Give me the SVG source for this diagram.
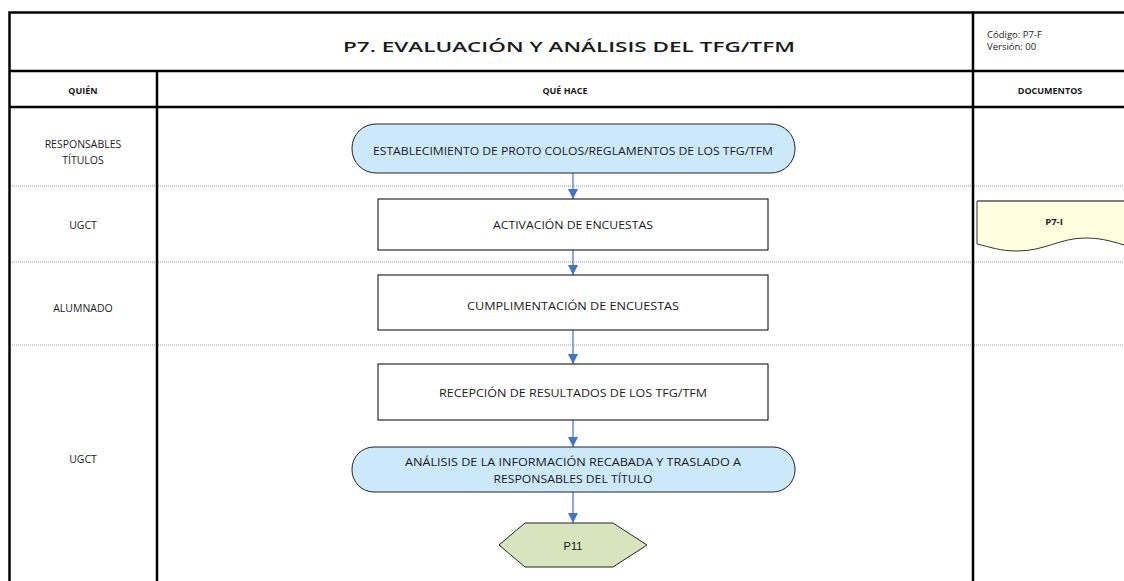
<svg xmlns="http://www.w3.org/2000/svg" width="1124" height="581" viewBox="0 0 1124 581">
<style>
.t{font-family:"Open Sans","Liberation Sans",sans-serif;fill:#1a1a1a}
.lbl{font-size:10.5px;text-anchor:middle}
.hd{font-size:9px;font-weight:bold;text-anchor:middle}
.grid{stroke:#000;stroke-width:2.5;fill:none}
.lane{stroke:#9a9a9a;stroke-width:1;stroke-dasharray:1 1}
.box{fill:#fff;stroke:#000;stroke-width:1}
.term{fill:#cce8fb;stroke:#222;stroke-width:1}
.conn{stroke:#4472c4;stroke-width:1.2;fill:none}
</style>
<defs>
<marker id="ah" viewBox="0 0 10 10" refX="10" refY="5" markerWidth="10" markerHeight="10" markerUnits="userSpaceOnUse" orient="auto">
<path d="M0,0 L10,5 L0,10 z" fill="#4472c4"/>
</marker>
</defs>
<rect width="1124" height="581" fill="#fff"/>
<g id="table">
<line class="lane" x1="10" y1="186" x2="1124" y2="186"/>
<line class="lane" x1="10" y1="262" x2="1124" y2="262"/>
<line class="lane" x1="10" y1="345" x2="1124" y2="345"/>
<path class="grid" d="M9.5,581 V12.5 H1124" stroke-width="3"/>
<line class="grid" x1="9" y1="71" x2="1124" y2="71"/>
<line class="grid" x1="9" y1="107" x2="1124" y2="107"/>
<line class="grid" x1="157" y1="71" x2="157" y2="581"/>
<line class="grid" x1="973" y1="12" x2="973" y2="581"/>
<text class="t" x="569" y="52" font-size="15" font-weight="600" text-anchor="middle" textLength="452" lengthAdjust="spacingAndGlyphs">P7. EVALUACIÓN Y ANÁLISIS DEL TFG/TFM</text>
<text class="t" x="987" y="38" font-size="9.5">Código: P7-F</text>
<text class="t" x="987" y="50" font-size="9.5">Versión: 00</text>
<text class="t hd" x="83" y="94">QUIÉN</text>
<text class="t hd" x="565" y="94">QUÉ HACE</text>
<text class="t hd" x="1050" y="94">DOCUMENTOS</text>
<text class="t lbl" x="83" y="148">RESPONSABLES</text>
<text class="t lbl" x="83" y="164">TÍTULOS</text>
<text class="t lbl" x="83" y="229">UGCT</text>
<text class="t lbl" x="83" y="312">ALUMNADO</text>
<text class="t lbl" x="83" y="463">UGCT</text>
</g>
<g id="connectors">
<line class="conn" x1="573" y1="173" x2="573" y2="199" marker-end="url(#ah)"/>
<line class="conn" x1="573" y1="250" x2="573" y2="275" marker-end="url(#ah)"/>
<line class="conn" x1="573" y1="330" x2="573" y2="364" marker-end="url(#ah)"/>
<line class="conn" x1="573" y1="420" x2="573" y2="447" marker-end="url(#ah)"/>
<line class="conn" x1="573" y1="492" x2="573" y2="523" marker-end="url(#ah)"/>
</g>
<g id="n1">
<rect class="term" x="352" y="124" width="443" height="49" rx="24" ry="24"/>
<text class="t lbl" x="573" y="155" textLength="400" lengthAdjust="spacingAndGlyphs">ESTABLECIMIENTO DE  PROTO COLOS/REGLAMENTOS  DE  LOS TFG/TFM</text>
</g>
<g id="n2">
<rect class="box" x="378" y="199" width="390" height="51"/>
<text class="t lbl" x="573" y="229" textLength="160" lengthAdjust="spacingAndGlyphs">ACTIVACIÓN  DE  ENCUESTAS</text>
</g>
<g id="n3">
<rect class="box" x="378" y="275" width="390" height="55"/>
<text class="t lbl" x="573" y="310" textLength="212" lengthAdjust="spacingAndGlyphs">CUMPLIMENTACIÓN  DE  ENCUESTAS</text>
</g>
<g id="n4">
<rect class="box" x="378" y="364" width="390" height="56"/>
<text class="t lbl" x="573" y="397" textLength="268" lengthAdjust="spacingAndGlyphs">RECEPCIÓN  DE  RESULTADOS DE  LOS TFG/TFM</text>
</g>
<g id="n5">
<rect class="term" x="352" y="447" width="443" height="45" rx="22" ry="22"/>
<text class="t lbl" x="573" y="466" textLength="336" lengthAdjust="spacingAndGlyphs">ANÁLISIS DE  LA  INFORMACIÓN RECABADA  Y TRASLADO A</text>
<text class="t lbl" x="573" y="483" textLength="159" lengthAdjust="spacingAndGlyphs">RESPONSABLES  DEL TÍTULO</text>
</g>
<g id="n6">
<polygon points="499,545 525,523 613,523 647,545 613,567 525,567" fill="#d7e4bd" stroke="#222" stroke-width="1"/>
<text x="573" y="549.5" font-family="Liberation Sans, Arial, sans-serif" font-size="11" text-anchor="middle" fill="#1a1a1a">P11</text>
</g>
<g id="doc">
<path d="M977,201 H1124 V245 C1108,240 1098,238 1085,238 C1060,238 1045,251 1017,251 C1000,251 990,247 977,244 Z" fill="#ffffe0" stroke="none"/>
<path d="M1124,245 C1108,240 1098,238 1085,238 C1060,238 1045,251 1017,251 C1000,251 990,247 977,244 V201 H1124" fill="none" stroke="#333" stroke-width="1"/>
<line x1="977" y1="201" x2="1124" y2="201" stroke="#777" stroke-width="1.5"/>
<text class="t" x="1054" y="225" font-size="9.5" font-weight="bold" text-anchor="middle" fill="#333">P7-I</text>
</g>
</svg>
